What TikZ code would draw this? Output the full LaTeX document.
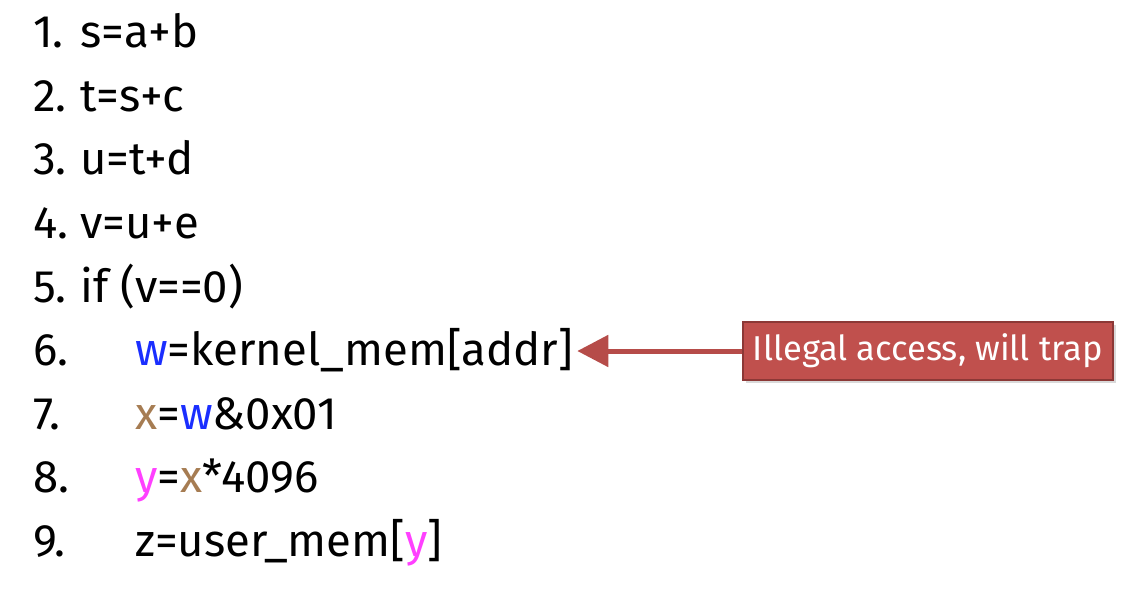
\documentclass[tikz,border=0pt]{standalone}
\usepackage{fontspec}
\setmainfont{Fira Sans}
\usetikzlibrary{arrows.meta,shadows}
\definecolor{varw}{HTML}{1A2EFF}
\definecolor{varx}{HTML}{A67C52}
\definecolor{vary}{HTML}{FF40FF}
\definecolor{trapfill}{HTML}{C0504D}
\definecolor{trapline}{HTML}{8C3836}

\begin{document}
\begin{tikzpicture}[x=1pt,y=-1pt,
  num/.style={anchor=base west, inner sep=0pt, font=\fontsize{45.5}{48}\selectfont},
  code/.style={anchor=base west, inner sep=0pt, font=\fontsize{45.5}{48}\selectfont},
  trapbox/.style={draw=trapline, line width=2pt, fill=trapfill, text=white,
    minimum width=370pt, minimum height=58pt, inner sep=0pt,
    font=\fontsize{34.5}{38}\selectfont, drop shadow={opacity=0.3}},
  traparrow/.style={draw=trapfill!95!black, line width=5pt,
    -{Triangle[length=31pt,width=31pt]}, shorten >=4pt}]
\useasboundingbox (0,0) rectangle (1139,593);
\path
(33,48) node[num] (num-1) {1.}
(33,111.5) node[num] (num-2) {2.}
(33,175) node[num] (num-3) {3.}
(33,238.5) node[num] (num-4) {4.}
(33,302) node[num] (num-5) {5.}
(33,365.5) node[num] (num-6) {6.}
(33,429) node[num] (num-7) {7.}
(33,492.5) node[num] (num-8) {8.}
(33,556) node[num] (num-9) {9.};

\path
(80,48) node[code] (line-1) {s=a+b}
(80,111.5) node[code] (line-2) {t=s+c}
(80,175) node[code] (line-3) {u=t+d}
(80,238.5) node[code] (line-4) {v=u+e}
(80,302) node[code] (line-5) {if (v==0)}
(135,365.5) node[code] (line-6) {\textcolor{varw}{w}=kernel\_mem[addr]}
(135,429) node[code] (line-7) {\textcolor{varx}{x}=\textcolor{varw}{w}\&0x01}
(135,492.5) node[code] (line-8) {\textcolor{vary}{y}=\textcolor{varx}{x}*4096}
(135,556) node[code] (line-9) {z=user\_mem[\textcolor{vary}{y}]};

\node[trapbox, anchor=north west] (trap) at (742,321) {Illegal access, will trap};

\draw[traparrow] (trap.west) -- (trap.west -| line-6.east);
\end{tikzpicture}
\end{document}
